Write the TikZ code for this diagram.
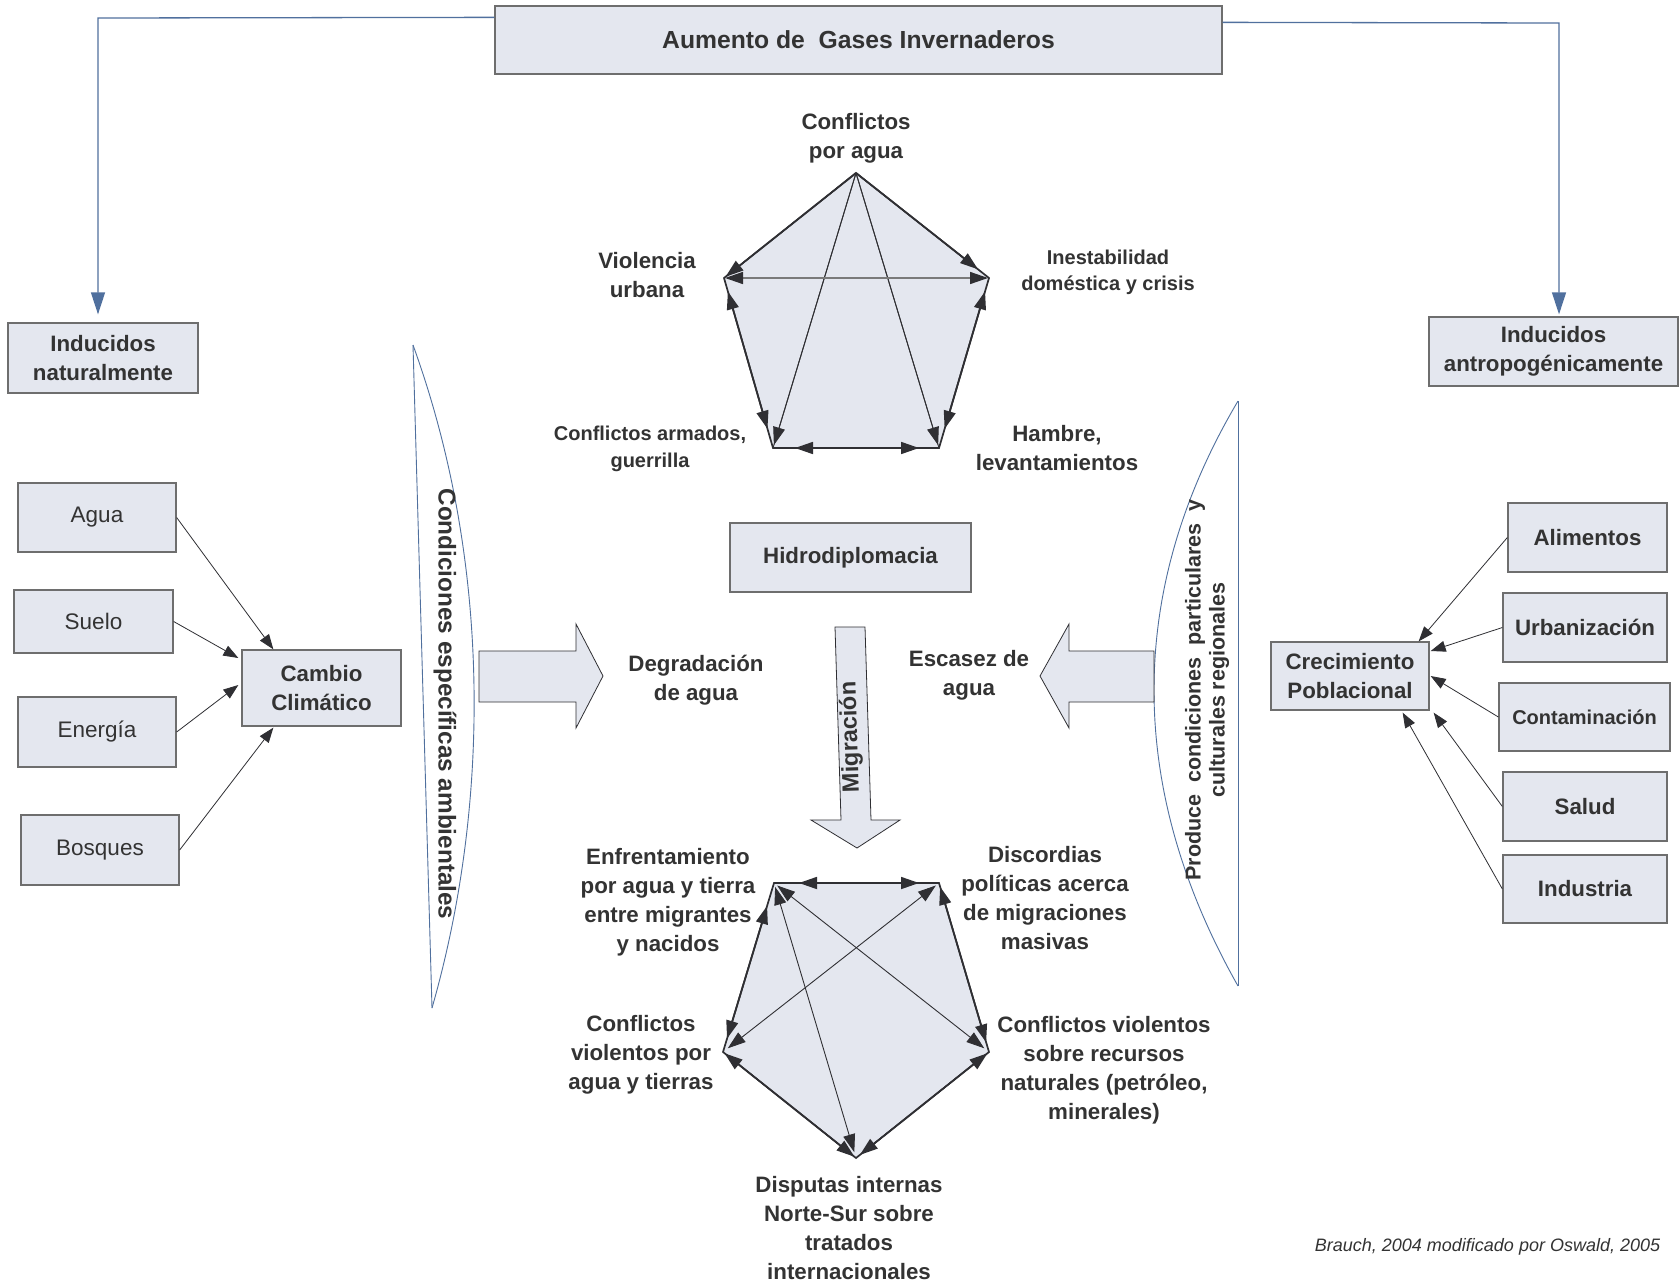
\documentclass[tikz,border=0pt]{standalone}
\usepackage{fontspec}
\setmainfont{Liberation Sans}
\usetikzlibrary{arrows.meta,calc}
\definecolor{boxfill}{HTML}{E4E7EF}
\definecolor{boxline}{HTML}{6E6E6E}
\definecolor{txt}{HTML}{333333}
\definecolor{bluel}{HTML}{50709E}
\definecolor{dk}{HTML}{2F2F33}
\definecolor{midg}{HTML}{7A7A7A}
\newcommand\fz[2]{\fontsize{#1}{#2}\selectfont}
\tikzset{
  box/.style={draw=boxline, fill=boxfill, line width=1.3pt, inner sep=0pt, align=center, text=txt, font=\fz{22.3}{29}\bfseries},
  lab/.style={inner sep=0pt, align=center, text=txt, font=\fz{22.3}{29}\bfseries},
  blueconn/.style={draw=bluel, line width=1.3pt, -{Triangle[length=22pt,width=14pt]}},
  lens/.style={draw=bluel, line width=0.9pt},
  feed/.style={draw=dk, line width=0.8pt, -{Triangle[length=15pt,width=11pt]}},
  pedge/.style={draw=dk, line width=1.7pt},
  pdiag/.style={draw=dk, line width=0.9pt},
  onehead/.style={-{Triangle[length=18pt,width=12pt,color=dk]}},
  twohead/.style={{Triangle[length=18pt,width=12pt,color=dk]}-{Triangle[length=18pt,width=12pt,color=dk]}},
  blockarrow/.style={fill=boxfill, draw=dk, line width=0.8pt, line join=miter}
}
\begin{document}
\begin{tikzpicture}[x=1pt,y=-1pt]
\useasboundingbox[fill=white] (0,0) rectangle (1680,1282);

% ---------- boxes ----------
\node[box, minimum width=727pt, minimum height=68pt, font=\fz{24.7}{30}\bfseries] (top) at (858.5,40) {Aumento de\ \ Gases Invernaderos};
\node[box, minimum width=190pt, minimum height=70pt] (indnat) at (103,358) {Inducidos\\naturalmente};
\node[box, minimum width=249pt, minimum height=69pt] (indant) at (1553.5,351.5) {Inducidos\\antropogénicamente};

\node[box, minimum width=158pt, minimum height=69pt, font=\fz{22.5}{28}] (agua) at (97,517.5) {Agua};
\node[box, minimum width=159pt, minimum height=63pt, font=\fz{22.5}{28}] (suelo) at (93.5,621.5) {Suelo};
\node[box, minimum width=158pt, minimum height=70pt, font=\fz{22.5}{28}] (energia) at (97,732) {Energía};
\node[box, minimum width=158pt, minimum height=70pt, font=\fz{22.5}{28}] (bosques) at (100,850) {Bosques};
\node[box, minimum width=159pt, minimum height=76pt, font=\fz{22.3}{29}\bfseries] (cambio) at (321.5,688) {Cambio\\Climático};

\node[box, minimum width=158pt, minimum height=68pt] (crec) at (1350,676) {Crecimiento\\Poblacional};
\node[box, minimum width=159pt, minimum height=69pt] (alim) at (1587.5,537.5) {Alimentos};
\node[box, minimum width=164pt, minimum height=69pt] (urb) at (1585,627.5) {Urbanización};
\node[box, minimum width=171pt, minimum height=68pt, font=\fz{20}{26}\bfseries] (cont) at (1584.5,717) {Contaminación};
\node[box, minimum width=164pt, minimum height=69pt] (salud) at (1585,806.5) {Salud};
\node[box, minimum width=164pt, minimum height=68pt] (ind) at (1585,889) {Industria};

\node[box, minimum width=241pt, minimum height=69pt] (hidro) at (850.5,557.5) {Hidrodiplomacia};

% ---------- blue connectors ----------
\coordinate (lcorner) at (98,18);
\coordinate (rcorner) at (1559,23);
\draw[blueconn, shorten >=8pt] ($(top.north west)+(0,12)$) -- (lcorner) -- (lcorner |- indnat.north);
\draw[blueconn, shorten >=2pt] ($(top.north east)+(0,17)$) -- (rcorner) -- (rcorner |- indant.north);

% ---------- feeders ----------
\draw[feed] (agua.east) -- ($(cambio.north west)+(32,0)$);
\draw[feed] (suelo.east) -- ($(cambio.west)+(-3,-30)$);
\draw[feed] (energia.east) -- ($(cambio.west)+(-3,-3)$);
\draw[feed] (bosques.east) -- ($(cambio.south west)+(32,1)$);

\draw[feed] (alim.west) -- ($(crec.north east)+(-11,0)$);
\draw[feed] (urb.west) -- ($(crec.east)+(1,-25)$);
\draw[feed] (cont.west) -- ($(crec.east)+(1,0)$);
\draw[feed] (salud.west) -- ($(crec.south east)+(4,2)$);
\draw[feed] (ind.west) -- ($(crec.south east)+(-27,2)$);

% ---------- lenses ----------
\draw[lens] (413,345) -- (432,1008);
\draw[lens] (413,345) .. controls (491,560) and (491,802) .. (432,1008);
\node[lab, rotate=-90, font=\fz{24.3}{29}\bfseries] (condamb) at (445,704) {Condiciones específicas ambientales};

\draw[lens] (1238,401) -- (1238,986);
\draw[lens] (1238,401) .. controls (1126,590) and (1126,788) .. (1238,986);
\node[lab, rotate=90, font=\fz{21.5}{24}\bfseries] (prodcond) at (1207,690) {Produce\ \ condiciones\ \ particulares\ \ y\\culturales regionales};

% ---------- block arrows ----------
\draw[blockarrow] (479,651) -- (576,651) -- (576,624) -- (603,676) -- (576,728) -- (576,702) -- (479,702) -- cycle;
\draw[blockarrow] (1154,651) -- (1069,651) -- (1069,624) -- (1040,676) -- (1069,728) -- (1069,702) -- (1154,702) -- cycle;
\draw[blockarrow] (835,627) -- (865,627) -- (871,820) -- (900,820) -- (857,848) -- (811,820) -- (841,820) -- cycle;
\node[lab, rotate=91.8, font=\fz{23.5}{28}\bfseries] (migr) at (851,737) {Migración};

\node[lab] (ldeg) at (696,680) {Degradación\\de agua};
\node[lab] (lesc) at (969,675) {Escasez de\\agua};

% ---------- top pentagon ----------
\coordinate (pT) at (856,173);
\coordinate (pL) at (724,278);
\coordinate (pR) at (989,278);
\coordinate (pBL) at (773,448);
\coordinate (pBR) at (939,448);
\fill[boxfill] (pT) -- (pR) -- (pBR) -- (pBL) -- (pL) -- cycle;
\draw[pedge, line join=miter] (pT) -- (pR) -- (pBR) -- (pBL) -- (pL) -- cycle;
\draw[pdiag] (pT) -- (pBL);
\draw[pdiag] (pT) -- (pBR);
\draw[pdiag, onehead, shorten >=3pt] (pT) -- (pBL);
\draw[pdiag, onehead, shorten >=3pt] (pT) -- (pBR);
\draw[pedge, onehead, shorten >=2pt] (pT) -- (pL);
\draw[pedge, onehead, shorten >=14pt] (pT) -- (pR);
\draw[draw=midg, line width=1.5pt, twohead, shorten <=1pt, shorten >=1pt] (pL) -- (pR);
\draw[pedge, twohead, shorten <=14pt, shorten >=20pt] (pL) -- (pBL);
\draw[pedge, twohead, shorten <=14pt, shorten >=20pt] (pR) -- (pBR);
\draw[pedge, twohead, shorten <=22pt, shorten >=20pt] (pBL) -- (pBR);

\node[lab] (lconf) at (856,138) {Conflictos\\por agua};
\node[lab] (lviol) at (647,275) {Violencia\\urbana};
\node[lab, font=\fz{20}{26}\bfseries] (linest) at (1108,272) {Inestabilidad\\doméstica y crisis};
\node[lab, font=\fz{20}{27}\bfseries] (larm) at (650,449) {Conflictos armados,\\guerrilla};
\node[lab] (lhamb) at (1057,448) {Hambre,\\levantamientos};

% ---------- bottom pentagon ----------
\coordinate (qTL) at (774,883);
\coordinate (qTR) at (939,883);
\coordinate (qL) at (723,1052);
\coordinate (qR) at (989,1052);
\coordinate (qB) at (856,1158);
\fill[boxfill] (qTL) -- (qTR) -- (qR) -- (qB) -- (qL) -- cycle;
\draw[pedge, line join=miter] (qTL) -- (qTR) -- (qR) -- (qB) -- (qL) -- cycle;
\draw[pdiag, twohead, shorten <=4pt, shorten >=6pt] (qTL) -- (qR);
\draw[pdiag, twohead, shorten <=4pt, shorten >=6pt] (qTR) -- (qL);
\draw[pdiag, twohead, shorten <=4pt, shorten >=6pt] (qTL) -- (qB);
\draw[pedge, twohead, shorten <=25pt, shorten >=20pt] (qTL) -- (qTR);
\draw[pedge, twohead, shorten <=24pt, shorten >=14pt] (qTL) -- (qL);
\draw[pedge, twohead, shorten <=4pt, shorten >=10pt] (qTR) -- (qR);
\draw[pedge, twohead, shorten <=2pt, shorten >=2pt] (qL) -- (qB);
\draw[pedge, twohead, shorten <=2pt, shorten >=5pt] (qR) -- (qB);

\node[lab] (lenf) at (668,902) {Enfrentamiento\\por agua y tierra\\entre migrantes\\y nacidos};
\node[lab] (ldisc) at (1045,898) {Discordias\\políticas acerca\\de migraciones\\masivas};
\node[lab] (lcv) at (641,1055) {Conflictos\\violentos por\\agua y tierras};
\node[lab] (lcvr) at (1104,1070) {Conflictos violentos\\sobre recursos\\naturales (petróleo,\\minerales)};
\node[lab] (ldisp) at (849,1228) {Disputas internas\\Norte-Sur sobre\\tratados\\internacionales};

% ---------- credit ----------
\node[inner sep=0pt, text=txt, font=\fz{18}{22}\itshape] (credit) at (1487.5,1247) {Brauch, 2004 modificado por Oswald, 2005};
\end{tikzpicture}
\end{document}
